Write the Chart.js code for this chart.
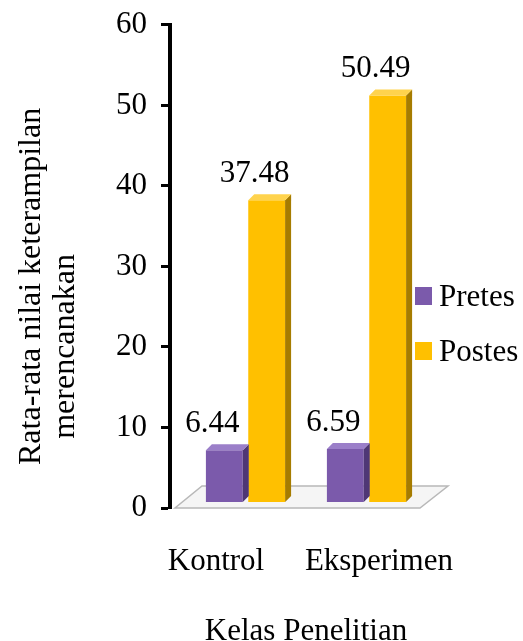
<!DOCTYPE html>
<html>
<head>
<meta charset="utf-8">
<script src="https://cdn.jsdelivr.net/npm/chart.js@4/dist/chart.umd.min.js"></script>
<style>
  html, body { margin: 0; padding: 0; background: #fff; }
  #wrap { width: 523px; height: 641px; }
</style>
</head>
<body>
<div id="wrap"><canvas id="myChart" width="523" height="641"></canvas></div>
<script>
const categories = ['Kontrol', 'Eksperimen'];
const seriesNames = ['Pretes', 'Postes'];
const pretes = [6.44, 6.59];
const postes = [37.48, 50.49];
const yMin = 0, yMax = 60, yStep = 10;

const frontColors = ['#7b5aab', '#ffc000'];
const sideColors = ['#4f3775', '#a67c00'];
const topColors = ['#9b7fc9', '#ffd34d'];
const depth = 6;
const font = 'Liberation Serif, Times New Roman, serif';
const nb = '\u00a0';

// fake 3D: floor, bar side/top faces, value labels, legend
const bar3d = {
  id: 'bar3d',
  beforeDatasetsDraw(chart) {
    const ctx = chart.ctx;
    const a = chart.chartArea;
    const yb = chart.scales.y.getPixelForValue(0);
    ctx.save();
    ctx.beginPath();
    ctx.moveTo(a.left - 10, yb);
    ctx.lineTo(a.right - 7, yb);
    ctx.lineTo(a.right + 21, yb - 22);
    ctx.lineTo(a.left + 17, yb - 22);
    ctx.closePath();
    ctx.fillStyle = '#f5f5f5';
    ctx.fill();
    ctx.strokeStyle = '#b8b8b8';
    ctx.lineWidth = 1.5;
    ctx.stroke();
    ctx.restore();
    ctx.save();
    ctx.translate(0, -depth);
  },
  afterDatasetsDraw(chart) {
    const ctx = chart.ctx;
    chart.data.datasets.forEach((ds, i) => {
      chart.getDatasetMeta(i).data.forEach(bar => {
        const p = bar.getProps(['x', 'y', 'base', 'width'], true);
        const l = p.x - p.width / 2, r = p.x + p.width / 2;
        ctx.fillStyle = sideColors[i];
        ctx.beginPath();
        ctx.moveTo(r, p.y);
        ctx.lineTo(r + depth, p.y - depth);
        ctx.lineTo(r + depth, p.base - depth);
        ctx.lineTo(r, p.base);
        ctx.closePath();
        ctx.fill();
        ctx.fillStyle = topColors[i];
        ctx.beginPath();
        ctx.moveTo(l, p.y);
        ctx.lineTo(l + depth, p.y - depth);
        ctx.lineTo(r + depth, p.y - depth);
        ctx.lineTo(r, p.y);
        ctx.closePath();
        ctx.fill();
      });
    });
    ctx.restore();

    // value labels above bars
    ctx.save();
    ctx.font = '31px ' + font;
    ctx.fillStyle = '#000';
    ctx.textAlign = 'center';
    ctx.textBaseline = 'alphabetic';
    chart.data.datasets.forEach((ds, i) => {
      chart.getDatasetMeta(i).data.forEach((bar, j) => {
        ctx.fillText(ds.data[j].toFixed(2), bar.x - 12, bar.y - 24);
      });
    });
    ctx.restore();
  },
  afterDraw(chart) {
    const ctx = chart.ctx;
    ctx.save();
    ctx.font = '31px ' + font;
    ctx.textBaseline = 'alphabetic';
    ctx.textAlign = 'left';
    chart.data.datasets.forEach((ds, i) => {
      const y = 287 + i * 55;
      ctx.fillStyle = frontColors[i];
      ctx.fillRect(415, y, 17, 18);
      ctx.fillStyle = '#000';
      ctx.fillText(ds.label, 439, y + 19);
    });
    ctx.restore();
  }
};

const ctx = document.getElementById('myChart').getContext('2d');
new Chart(ctx, {
  type: 'bar',
  data: {
    labels: categories,
    datasets: [{
      label: seriesNames[0],
      data: pretes,
      backgroundColor: frontColors[0],
      categoryPercentage: 0.7,
      barPercentage: 0.87
    }, {
      label: seriesNames[1],
      data: postes,
      backgroundColor: frontColors[1],
      categoryPercentage: 0.7,
      barPercentage: 0.87
    }]
  },
  options: {
    responsive: false,
    animation: false,
    layout: { padding: { left: 15, right: 96, top: 18, bottom: 0 } },
    plugins: {
      legend: { display: false },
      tooltip: { enabled: false }
    },
    scales: {
      x: { display: false },
      // label axis, perspective shifts the category names apart
      xl: {
        type: 'linear',
        position: 'bottom',
        offset: false,
        bounds: 'data',
        min: -0.19,
        max: 1.295,
        afterBuildTicks: s => { s.ticks = categories.map((c, i) => ({ value: i })); },
        grid: { display: false, offset: false },
        border: { display: false },
        ticks: {
          color: '#000',
          font: { family: font, size: 31 },
          padding: 27,
          maxRotation: 0,
          minRotation: 0,
          autoSkip: false,
          callback: v => categories[v]
        },
        title: {
          display: true,
          text: 'Kelas Penelitian',
          color: '#000',
          font: { family: font, size: 31, lineHeight: 1.0 },
          padding: { top: 0, bottom: -6 }
        },
        afterFit: s => { s.height = 133; }
      },
      yPad: {
        type: 'linear',
        position: 'left',
        weight: 0,
        grid: { display: false },
        border: { display: false },
        ticks: { display: false },
        afterFit: s => { s.width = 15; }
      },
      y: {
        position: 'left',
        weight: 1,
        min: yMin,
        max: yMax,
        ticks: {
          stepSize: yStep,
          color: '#000',
          font: { family: font, size: 31, lineHeight: 0.7 },
          padding: 14
        },
        grid: {
          drawOnChartArea: false,
          drawTicks: true,
          tickLength: 9,
          tickWidth: 3,
          color: '#000'
        },
        border: { display: true, width: 4, color: '#000' },
        title: {
          display: true,
          text: ['Rata-rata nilai keterampilan' + nb.repeat(5), 'merencanakan' + nb.repeat(20)],
          color: '#000',
          font: { family: font, size: 32, lineHeight: 1.05 },
          padding: { top: 0, bottom: 0 }
        },
        afterFit: s => { s.width = 155; }
      }
    }
  },
  plugins: [bar3d]
});
</script>
</body>
</html>
